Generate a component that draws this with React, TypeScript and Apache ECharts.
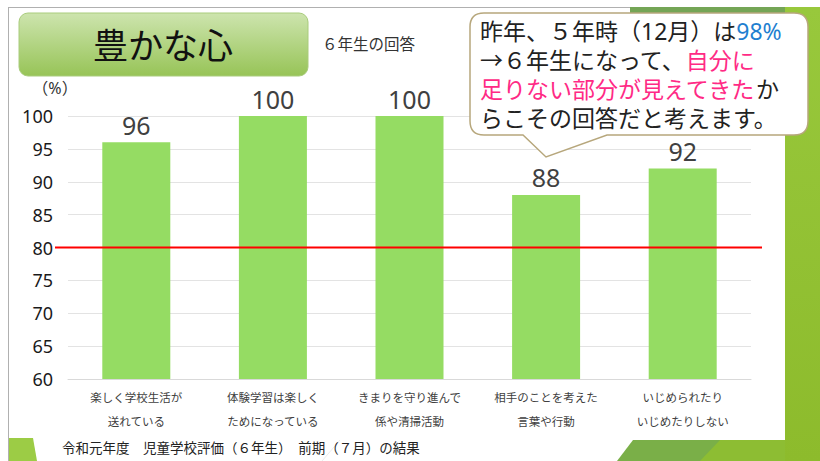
import React, { useEffect, useRef } from "react";
import * as echarts from "echarts";

const categories = [
  "楽しく学校生活が\n送れている",
  "体験学習は楽しく\nためになっている",
  "きまりを守り進んで\n係や清掃活動",
  "相手のことを考えた\n言葉や行動",
  "いじめられたり\nいじめたりしない",
];
const values = [96, 100, 100, 88, 92];
const targetLine = 80;
const yMin = 60;
const yMax = 100;
const yInterval = 5;

const calloutPath =
  "M 484 13 H 794 Q 808 13 808 27 V 121 Q 808 135 794 135 H 607 L 546 157 L 523 135 H 484 Q 470 135 470 121 V 27 Q 470 13 484 13 Z";

let registered = false;
function registerShapes() {
  if (registered) return;
  registered = true;
  echarts.graphic.registerShape("callout", echarts.graphic.extendPath(calloutPath, {}) as any);
}

const FONT = "'Noto Sans', 'Noto Sans CJK JP', sans-serif";

export default function App() {
  const ref = useRef<HTMLDivElement>(null);
  useEffect(() => {
    if (!ref.current) return;
    registerShapes();
    const chart = echarts.init(ref.current, undefined, { renderer: "svg" });
    const rich = {
      k: { fill: "#222222", color: "#222222", fontSize: 23, lineHeight: 25, fontFamily: FONT },
      b: { fill: "#1f7fd0", color: "#1f7fd0", fontSize: 23, lineHeight: 25, fontFamily: FONT },
      p: { fill: "#ff2a85", color: "#ff2a85", fontSize: 23, lineHeight: 25, fontFamily: FONT },
    };
    const calloutLines = [
      "{k|昨年、５年時（12月）は}{b|98%}",
      "{k|→６年生になって、}{p|自分に}",
      "{p|足りない部分が見えてきた}{k|か}",
      "{k|らこその回答だと考えます。}",
    ];
    const lineY = [31, 60, 89, 118];
    chart.setOption({
      animation: false,
      backgroundColor: "#ffffff",
      textStyle: { fontFamily: FONT },
      grid: [
        { left: 68, right: 69, top: 116, bottom: 82, containLabel: false },
        { left: 55, right: 58, top: 116, bottom: 82, containLabel: false },
      ],
      xAxis: [
        {
          type: "category",
          gridIndex: 0,
          data: categories,
          axisLine: { show: true, lineStyle: { color: "#d9d9d9", width: 1 } },
          axisTick: { show: false },
          axisLabel: {
            color: "#404040",
            fontSize: 11.5,
            lineHeight: 24,
            margin: 6,
            fontFamily: FONT,
            interval: 0,
          },
        },
        {
          type: "value",
          gridIndex: 1,
          min: 0,
          max: 1,
          show: false,
        },
      ],
      yAxis: [
        {
          type: "value",
          gridIndex: 0,
          min: yMin,
          max: yMax,
          interval: yInterval,
          axisLine: { show: false },
          axisTick: { show: false },
          splitLine: { lineStyle: { color: "#e3e3e3", width: 1 } },
          axisLabel: { color: "#1a1a1a", fontSize: 18, margin: 15, fontFamily: FONT },
        },
        {
          type: "value",
          gridIndex: 1,
          min: yMin,
          max: yMax,
          interval: yInterval,
          show: false,
        },
      ],
      series: [
        {
          type: "bar",
          xAxisIndex: 0,
          yAxisIndex: 0,
          data: values,
          barWidth: 68,
          itemStyle: { color: "#95dc63" },
          label: {
            show: true,
            position: "top",
            distance: 5,
            fontSize: 25,
            color: "#404040",
            fontFamily: FONT,
          },
        },
        {
          type: "line",
          xAxisIndex: 1,
          yAxisIndex: 1,
          data: [
            [0, targetLine],
            [1, targetLine],
          ],
          symbol: "none",
          lineStyle: { color: "#ff0000", width: 2 },
          z: 5,
        },
      ],
      graphic: [
        // background decorations
        { type: "line", shape: { x1: 8, y1: 7.5, x2: 640, y2: 7.5 }, style: { stroke: "#b0b0b0", lineWidth: 1 }, z: 0 },
        { type: "line", shape: { x1: 8.5, y1: 7, x2: 8.5, y2: 461 }, style: { stroke: "#b0b0b0", lineWidth: 1 }, z: 0 },
        { type: "polygon", shape: { points: [[630, 7], [800, 7], [800, 13], [630, 13]] }, style: { fill: "#74a556" }, z: 0 },
        {
          type: "polygon",
          shape: { points: [[785, 7], [820, 7], [820, 461], [785, 461]] },
          style: {
            fill: new echarts.graphic.LinearGradient(0, 0, 0, 1, [
              { offset: 0, color: "#98c83c" },
              { offset: 1, color: "#8dbb2c" },
            ]),
          },
          z: 0,
        },
        { type: "polygon", shape: { points: [[633, 440], [785, 440], [785, 461], [617, 461]] }, style: { fill: "#7aaf48" }, z: 0 },
        { type: "polygon", shape: { points: [[720, 440], [785, 440], [785, 461], [700, 461]] }, style: { fill: "#8dbd33" }, z: 0 },
        { type: "polygon", shape: { points: [[9, 438], [33, 438], [37, 461], [9, 461]] }, style: { fill: "#9ccc45" }, z: 0 },
        { type: "line", shape: { x1: 340, y1: 440, x2: 322, y2: 461 }, style: { stroke: "#ececec", lineWidth: 1 }, z: 0 },
        // title box
        {
          type: "rect",
          shape: { x: 19, y: 13, width: 289, height: 63, r: 9 },
          style: {
            fill: new echarts.graphic.LinearGradient(0, 0, 0, 1, [
              { offset: 0, color: "#cde4ae" },
              { offset: 1, color: "#97c457" },
            ]),
            stroke: "#a9cc7c",
            lineWidth: 1,
          },
          z: 10,
        },
        {
          type: "text",
          x: 163,
          y: 45,
          style: { text: "豊かな心", font: `35px ${FONT}`, fill: "#111111", align: "center", verticalAlign: "middle" },
          z: 11,
        },
        {
          type: "text",
          x: 322,
          y: 44,
          style: { text: "６年生の回答", font: `15.5px ${FONT}`, fill: "#333333", align: "left", verticalAlign: "middle" },
          z: 11,
        },
        {
          type: "text",
          x: 55,
          y: 88,
          style: { text: "（%）", font: `16px ${FONT}`, fill: "#333333", align: "center", verticalAlign: "middle" },
          z: 11,
        },
        // callout
        {
          type: "callout",
          x: 0,
          y: 0,
          style: { fill: "#ffffff", stroke: "#b7a77c", lineWidth: 1.5 },
          z: 20,
        },
        ...calloutLines.map((t, i) => ({
          type: "text",
          x: 480,
          y: lineY[i],
          style: { text: t, rich, align: "left", verticalAlign: "middle", font: `23px ${FONT}` },
          z: 21,
        })),
        // footer
        {
          type: "text",
          x: 62,
          y: 448,
          style: {
            text: "令和元年度　児童学校評価（６年生）　前期（７月）の結果",
            font: `13.5px ${FONT}`,
            fill: "#222222",
            align: "left",
            verticalAlign: "middle",
          },
          z: 11,
        },
      ],
    });
    return () => chart.dispose();
  }, []);
  return (
    <div
      ref={ref}
      style={{ position: "fixed", left: 0, top: 0, width: 820, height: 461 }}
    />
  );
}
